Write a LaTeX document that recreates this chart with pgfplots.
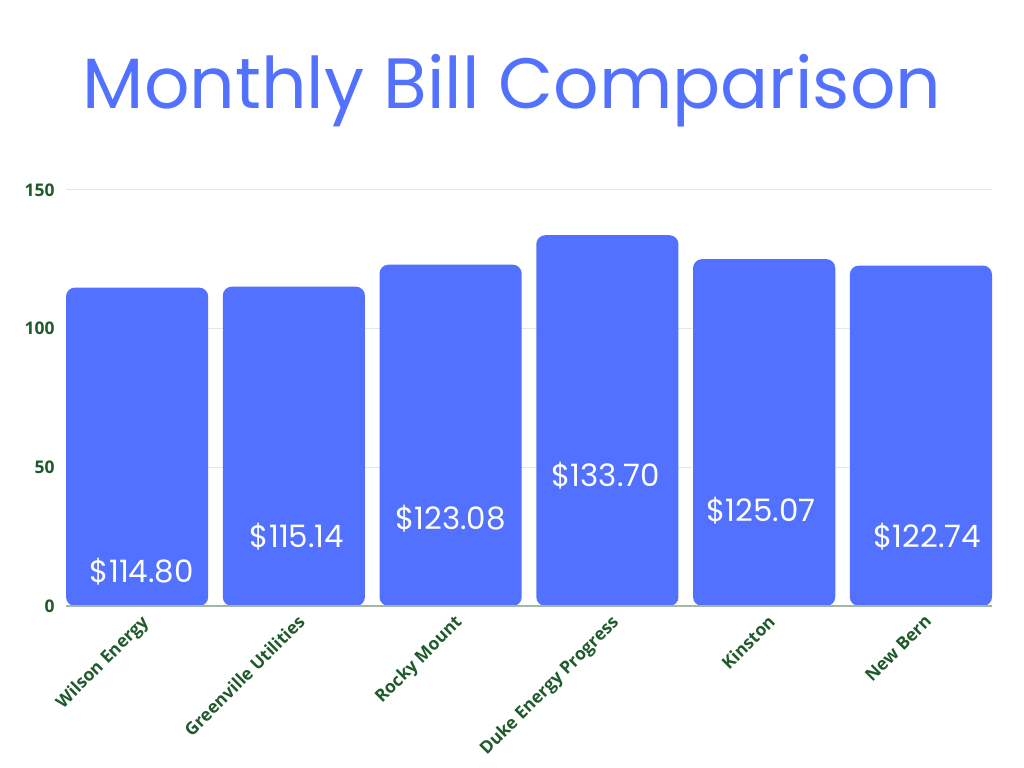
\documentclass[border=0pt]{standalone}
\usepackage{fontspec}
\setmainfont{Open Sans}
\newfontfamily\pop{Poppins}
\usepackage{pgfplots}
\usepackage{pgfplotstable}
\pgfplotsset{compat=1.18}

\definecolor{barblue}{HTML}{5271FF}
\definecolor{tickgreen}{HTML}{1F5A2B}
\definecolor{gridgray}{HTML}{E6E6E6}
\definecolor{basegray}{HTML}{A2B7A4}

% bills per utility
\pgfplotstableread{
x v
0 114.80
1 115.14
2 123.08
3 133.70
4 125.07
5 122.74
}\bills

% where the value labels sit inside the bars
\pgfplotstableread{
x y lab
0.03 12.3 114.80
1.02 24.9 115.14
2.00 31.4 123.08
2.99 46.9 133.70
3.98 34.3 125.07
5.04 24.9 122.74
}\labels

\pgfplotsset{frame/.style={
    at={(66bp,162bp)}, anchor=south west,
    scale only axis,
    width=926bp, height=416bp,
    xmin=-0.4535, xmax=5.4535}}

\begin{document}
\begin{tikzpicture}
\useasboundingbox (0,0) rectangle (1024bp,768bp);
\node[anchor=base, text=barblue, font=\pop\fontsize{71.5}{75}\selectfont] at (512bp,659bp) {Monthly Bill Comparison};
% grid and tick labels
\begin{axis}[
    frame,
    ymin=0, ymax=150,
    ytick={0,50,100,150},
    yticklabels={0,50,100,150},
    xtick={0,1,2,3,4,5},
    xticklabels={Wilson Energy, Greenville Utilities, Rocky Mount, Duke Energy Progress, Kinston, New Bern},
    axis line style={draw=none},
    major tick length=0pt,
    ymajorgrids=true,
    grid style={draw=gridgray, line width=1bp},
    tick label style={font=\bfseries\fontsize{17.5}{20}\selectfont, text=tickgreen},
    yticklabel style={xshift=-8bp},
    xticklabel style={rotate=45, anchor=north east, yshift=-4bp},
]
\end{axis}
% bars: same scale, lifted by 10 so the bars' bottom corners fall under the clip
\begin{axis}[
    frame,
    ymin=10, ymax=160,
    axis x line*=bottom, axis y line=none,
    x axis line style={draw=basegray, line width=1.2bp},
    xtick=\empty, ytick=\empty,
    axis on top,
]
\addplot[ybar, bar width=0.907, bar shift=0pt, fill=barblue, draw=none, rounded corners=9bp]
    table[x=x, y expr=\thisrow{v}+10] {\bills};
\addplot[draw=none, mark=none, point meta=explicit symbolic,
    nodes near coords={\$\pgfplotspointmeta},
    nodes near coords align=center,
    every node near coord/.style={font=\pop\fontsize{31}{33}\selectfont, text=white, anchor=center}]
    table[x=x, y expr=\thisrow{y}+10, meta=lab] {\labels};
\end{axis}
\end{tikzpicture}
\end{document}
